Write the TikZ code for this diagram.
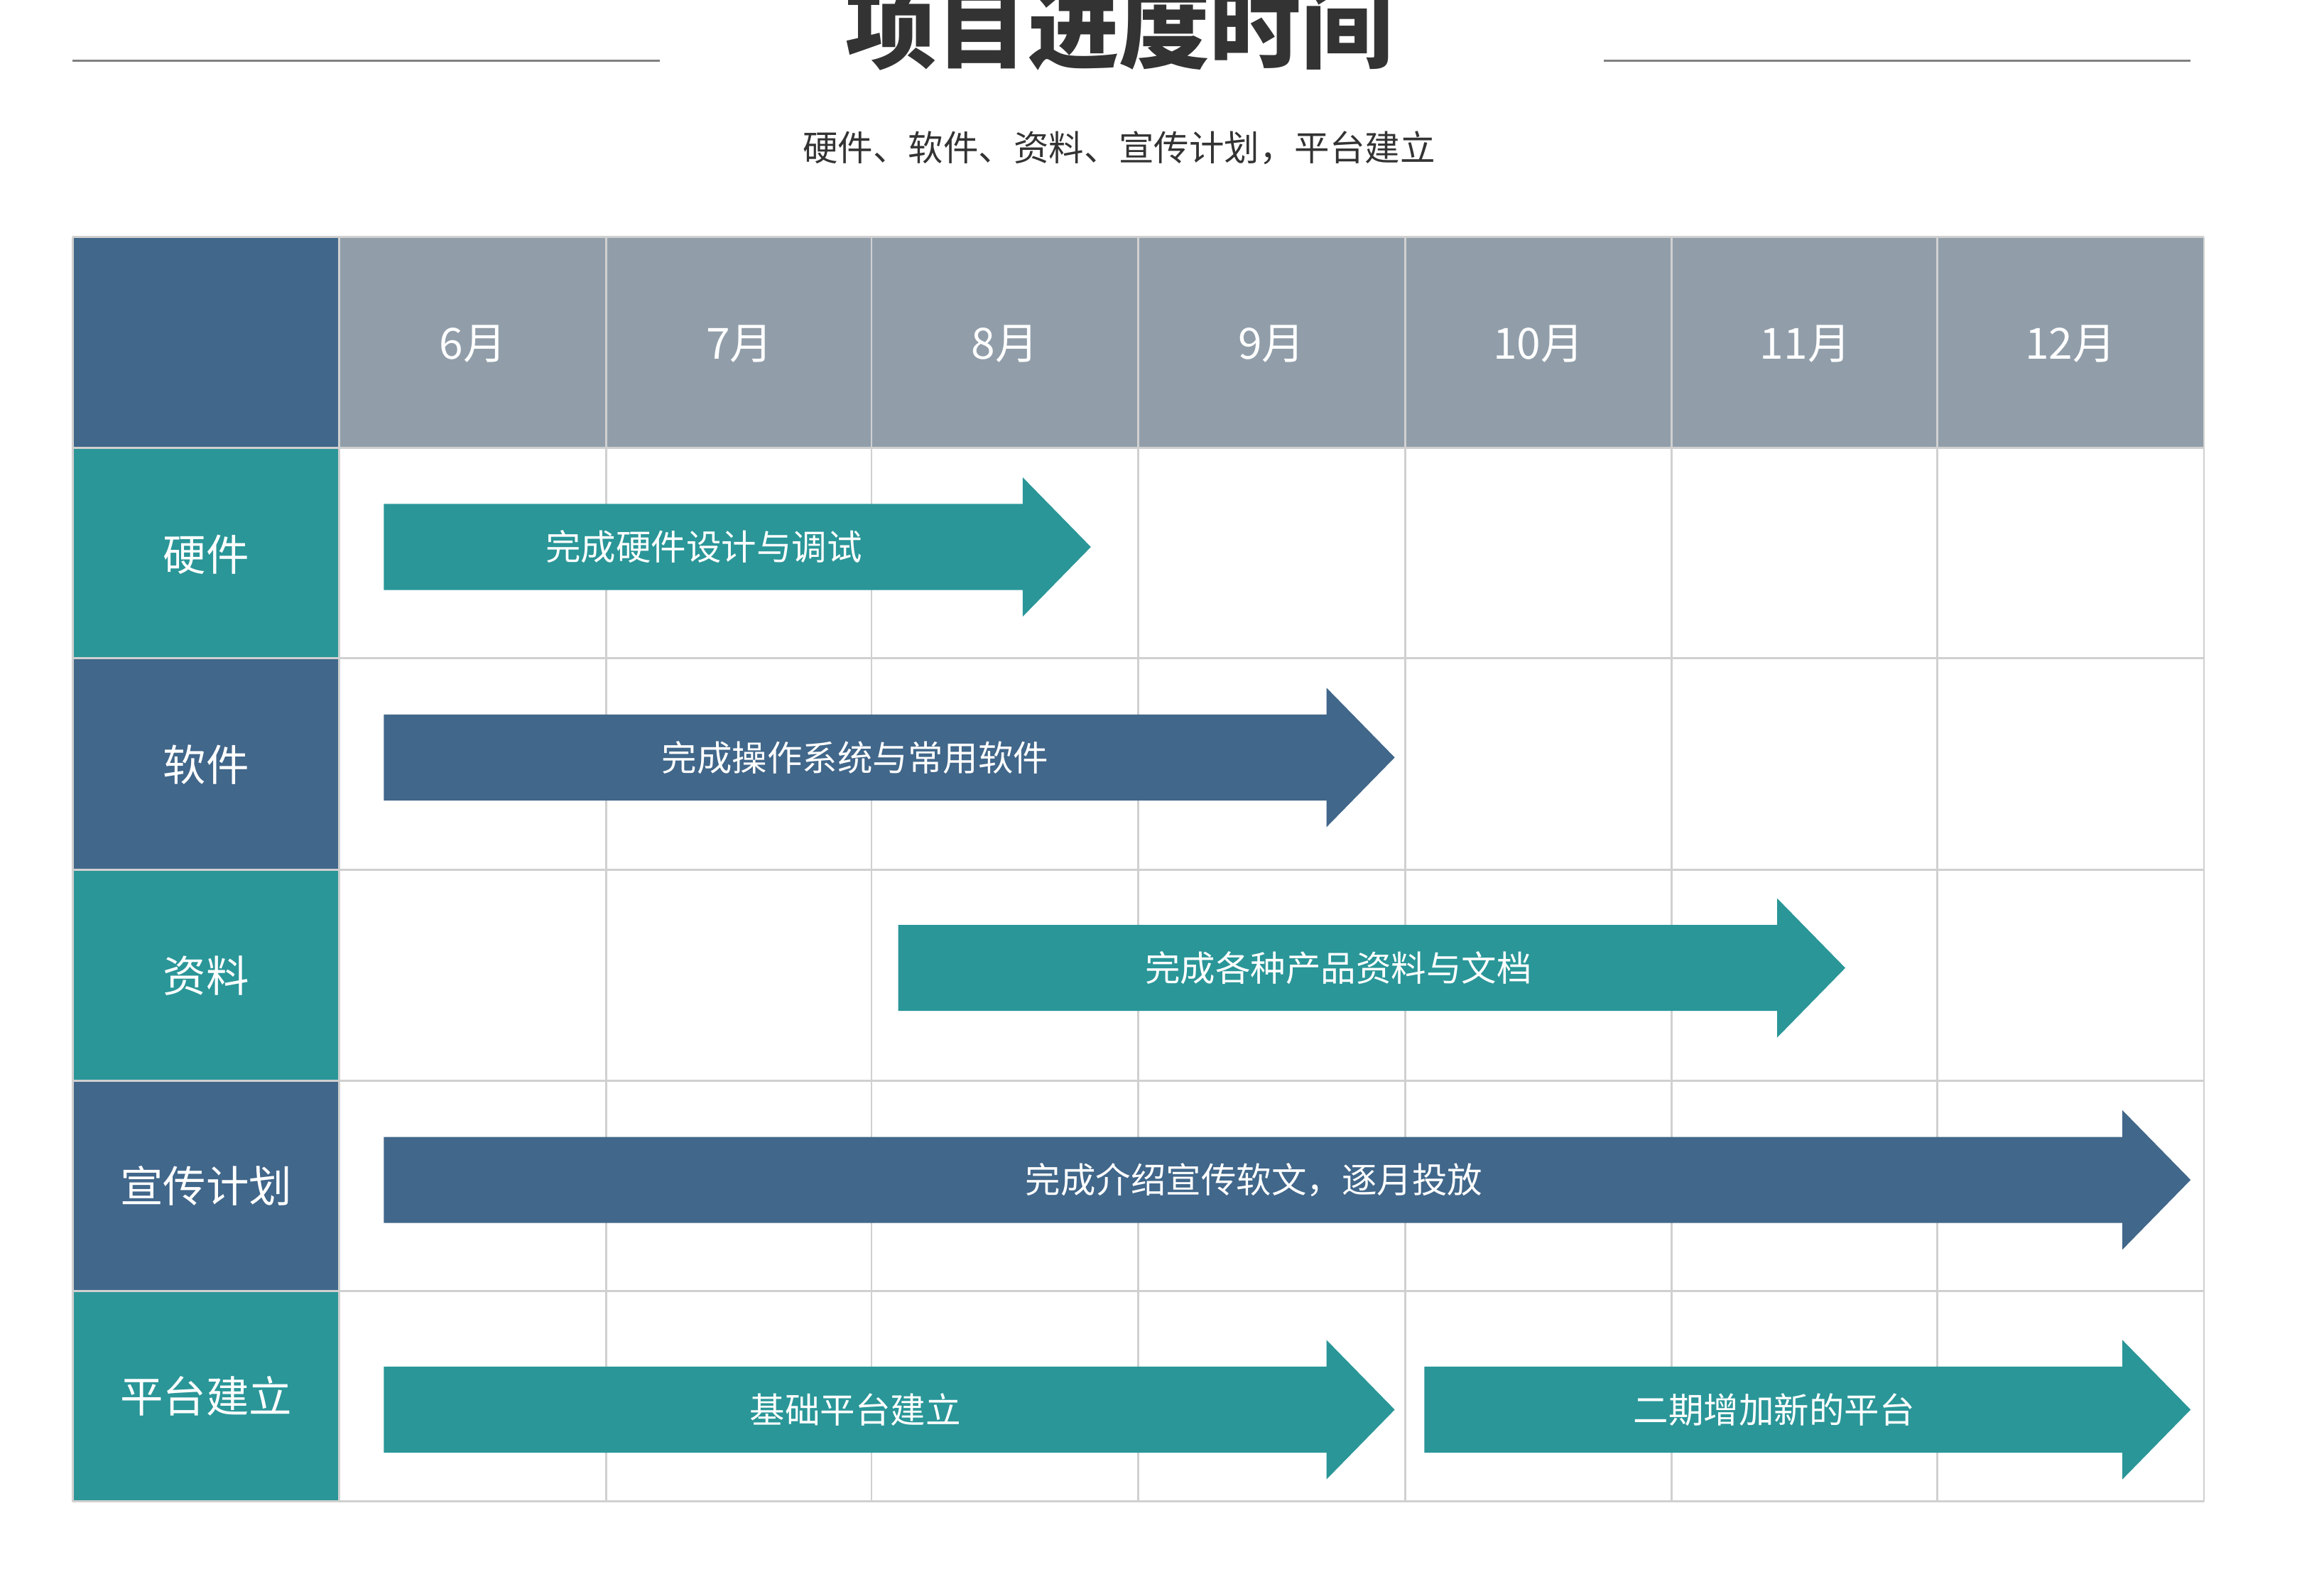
\documentclass[tikz,border=0pt]{standalone}
\usepackage{fontspec}
\setmainfont{Noto Sans CJK SC}
\begin{document}
\begin{tikzpicture}[x=0.02cm,y=-0.02cm,
  teal/.style={fill={rgb,255:red,42;green,150;blue,152}},
  blu/.style={fill={rgb,255:red,65;green,103;blue,138}},
  hdr/.style={fill={rgb,255:red,145;green,158;blue,170}},
  grid/.style={draw={rgb,255:red,208;green,208;blue,208},line width=0.8pt},
  rowlab/.style={text=white,font=\fontsize{16.5}{18}\selectfont},
  mon/.style={text=white,font=\fontsize{16.5}{18}\selectfont},
  arrlab/.style={text=white,font=\fontsize{13.5}{15}\selectfont}]
\useasboundingbox (0,0) rectangle (1568,1075);
\clip (0,0) rectangle (1568,1075);
% title
\node[font=\fontsize{35}{40}\selectfont\bfseries,text={rgb,255:red,51;green,51;blue,51}] (title) at (755,18) {项目进度时间};
\draw[gray,line width=0.8pt] (49,41) -- (445,41);
\draw[gray,line width=0.8pt] (1082,41) -- (1478,41);
\node[font=\fontsize{13.5}{15}\selectfont,text={rgb,255:red,51;green,51;blue,51}] (sub) at (755,100) {硬件、软件、资料、宣传计划，平台建立};
% header
\fill[blu] (49,160) rectangle (229,302);
\fill[hdr] (229,160) rectangle (1487,302);
% row labels
\fill[teal] (49,302) rectangle (229,444);
\fill[blu] (49,444) rectangle (229,587);
\fill[teal] (49,587) rectangle (229,729);
\fill[blu] (49,729) rectangle (229,871);
\fill[teal] (49,871) rectangle (229,1013);
% grid
\foreach \x in {49,229,409,588,768,948,1128,1307,1487} \draw[grid] (\x,160) -- (\x,1013);
\foreach \y in {160,302,444,587,729,871,1013} \draw[grid] (49,\y) -- (1487,\y);
% months
\foreach \m/\x in {6/319,7/499,8/678,9/858,10/1038,11/1218,12/1397}
  \node[mon] (m\m) at (\x,232) {\m 月};
\node[rowlab] (r1) at (139,374) {硬件};
\node[rowlab] (r2) at (139,516) {软件};
\node[rowlab] (r3) at (139,658) {资料};
\node[rowlab] (r4) at (139,800) {宣传计划};
\node[rowlab] (r5) at (139,942) {平台建立};
% arrows
\def\arr#1#2#3#4{\fill[#4] (#1,#3-29) -- (#2-46,#3-29) -- (#2-46,#3-47) -- (#2,#3) -- (#2-46,#3+47) -- (#2-46,#3+29) -- (#1,#3+29) -- cycle;}
\arr{259}{736}{369}{teal}
\arr{259}{941}{511}{blu}
\arr{606}{1245}{653}{teal}
\arr{259}{1478}{796}{blu}
\arr{259}{941}{951}{teal}
\arr{961}{1478}{951}{teal}
\node[arrlab] (a1) at (475,369) {完成硬件设计与调试};
\node[arrlab] (a2) at (577,511) {完成操作系统与常用软件};
\node[arrlab] (a3) at (903,653) {完成各种产品资料与文档};
\node[arrlab] (a4) at (846,796) {完成介绍宣传软文，逐月投放};
\node[arrlab] (a5) at (577,951) {基础平台建立};
\node[arrlab] (a6) at (1197,951) {二期增加新的平台};
\end{tikzpicture}
\end{document}
